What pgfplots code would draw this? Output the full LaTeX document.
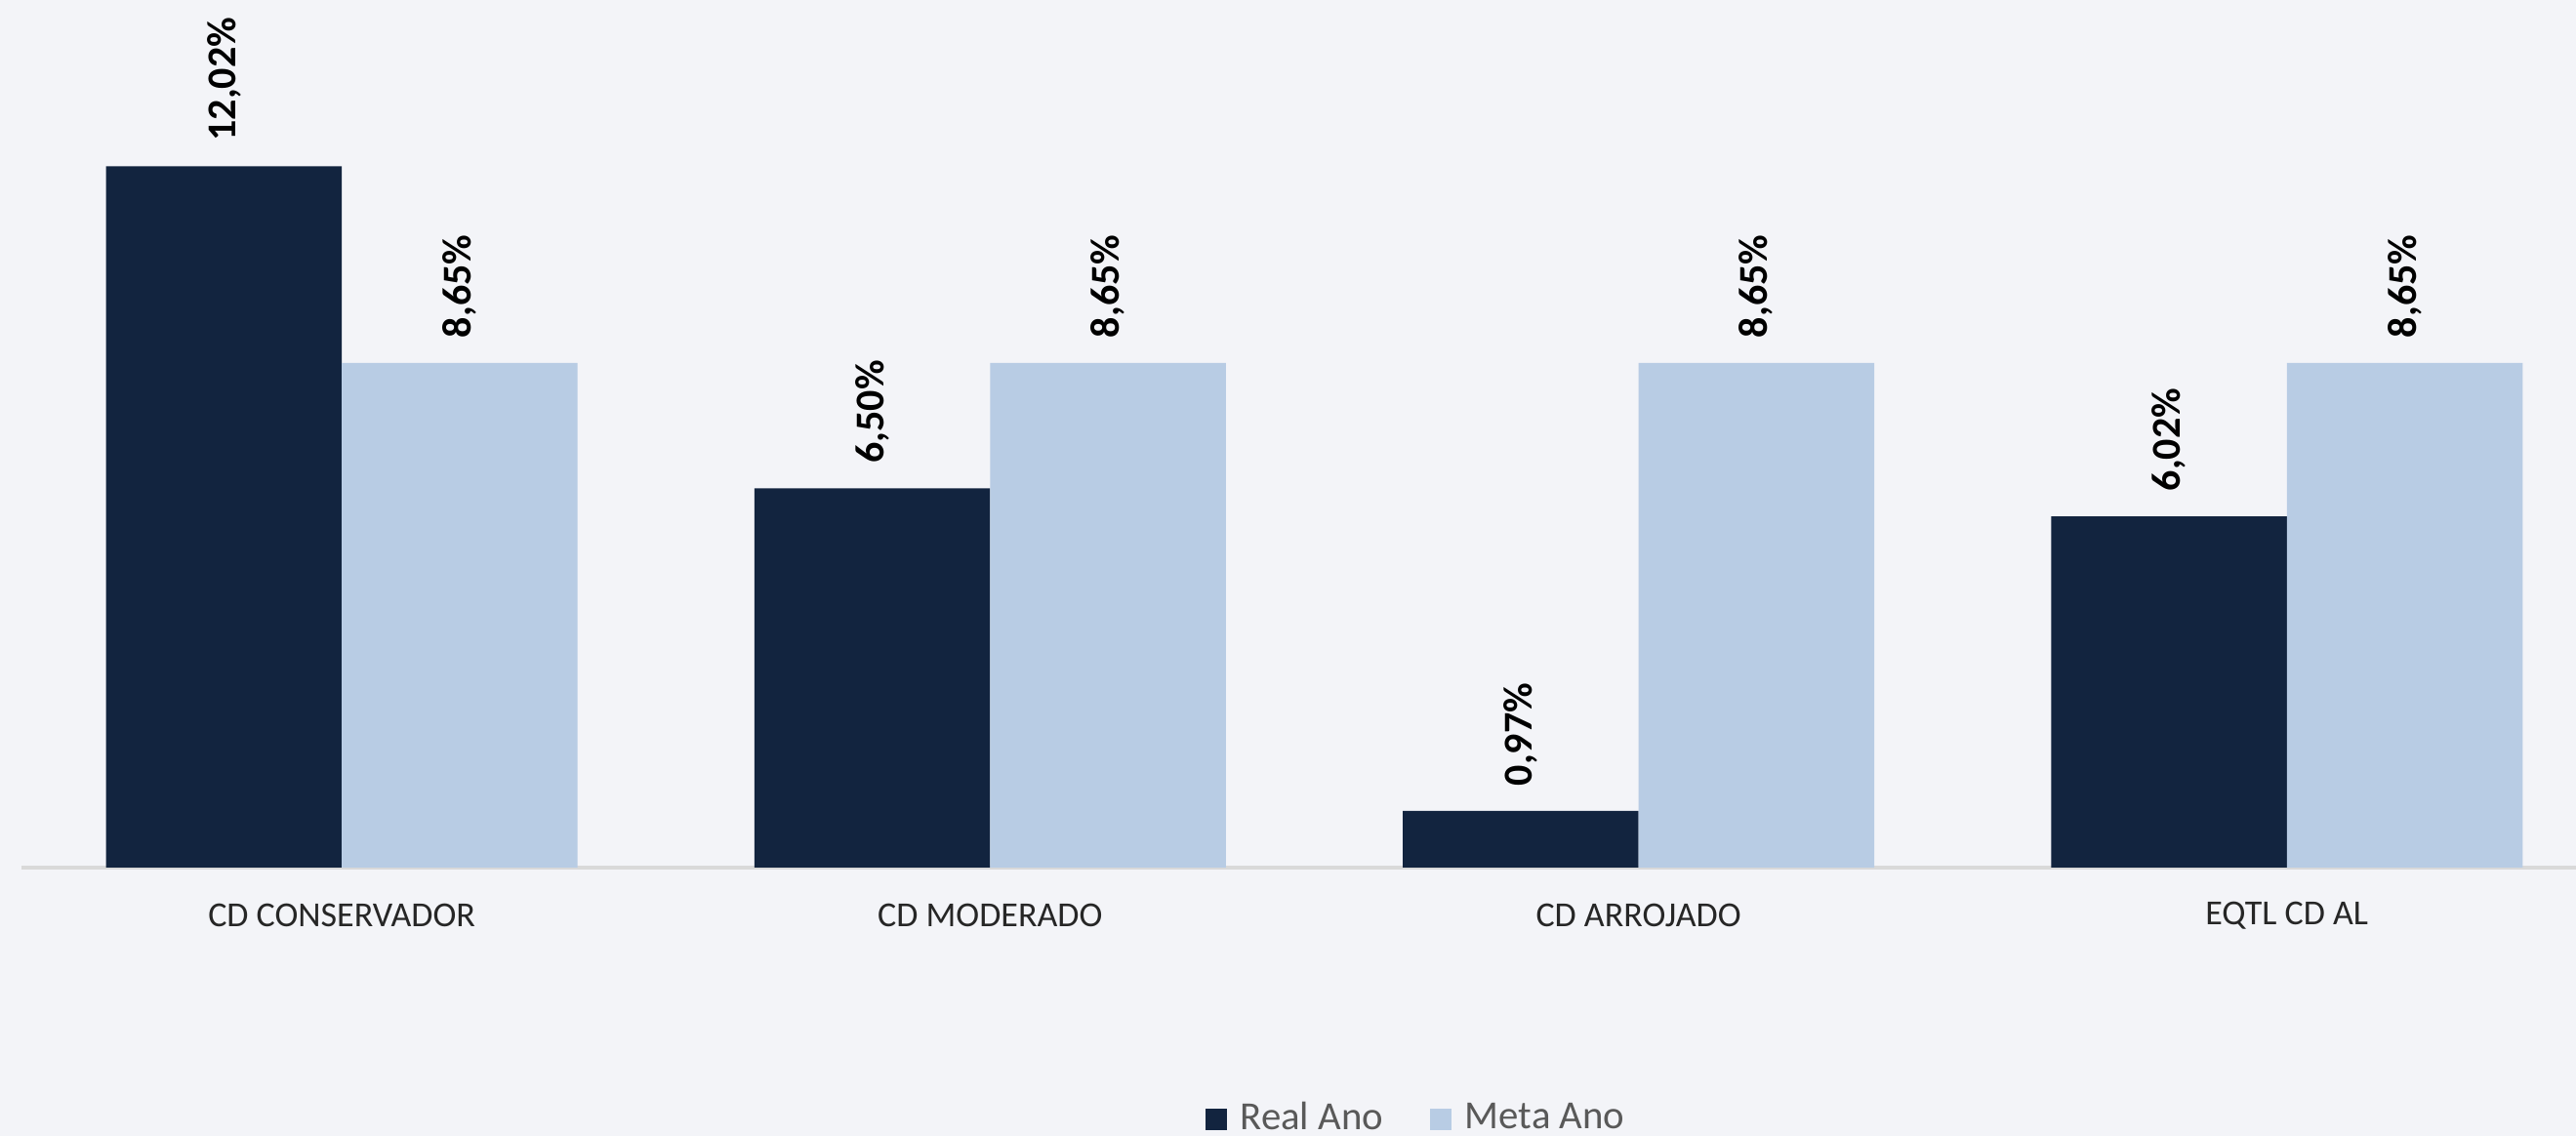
\documentclass[border=0pt]{standalone}
\usepackage{pgfplots}
\pgfplotsset{compat=1.18}
\usepackage{fontspec}
\setmainfont{Carlito}
\definecolor{bg}{HTML}{F3F4F8}
\definecolor{darkbar}{HTML}{12243F}
\definecolor{lightbar}{HTML}{B8CCE4}
\definecolor{axisgrey}{HTML}{D9D9D9}
\definecolor{labelc}{HTML}{262626}
\definecolor{legendc}{HTML}{595959}
\begin{document}
\begin{tikzpicture}
\fill[bg] (0,0) rectangle (659.75pt,291pt);
\useasboundingbox (0,0) rectangle (659.75pt,291pt);
\begin{axis}[
  at={(5.5pt,68.75pt)}, anchor=south west,
  scale only axis, width=654.25pt, height=209.25pt,
  xmin=-0.494, xmax=3.446, ymin=0, ymax=14,
  enlargelimits=false, clip=false,
  axis x line*=bottom, hide y axis,
  axis line style={axisgrey, line width=1pt},
  xtick={0,1,2,3},
  xticklabels={CD CONSERVADOR, CD MODERADO, CD ARROJADO, EQTL CD AL},
  major tick length=0pt,
  xticklabel style={anchor=center, yshift=-12.25pt, font=\fontsize{9}{11}\selectfont, text=labelc},
  ybar=0pt, bar width=60.375pt,
  nodes near coords={\pgfmathprintnumber[fixed, fixed zerofill, precision=2, use comma, assume math mode=true]{\pgfplotspointmeta}\%},
  every node near coord/.append style={rotate=90, anchor=west, inner xsep=6.25pt, font=\bfseries\fontsize{10.5}{12}\selectfont, text=black},
  legend style={at={(0.547,-0.308)}, anchor=center, draw=none, fill=none, legend columns=2,
    font=\fontsize{10.2}{12}\selectfont, text=legendc,
    /tikz/every even column/.append style={column sep=10pt}},
  legend image code/.code={\fill[#1,/tikz/.cd] (0pt,-2.75pt) rectangle (5.5pt,2.75pt); \path (7pt,0pt);},
]
\addplot[fill=darkbar, draw=none] coordinates {(0,12.02) (1,6.50) (2,0.97) (3,6.02)};
\addplot[fill=lightbar, draw=none] coordinates {(0,8.65) (1,8.65) (2,8.65) (3,8.65)};
\legend{Real Ano, Meta Ano}
\end{axis}
\end{tikzpicture}
\end{document}
